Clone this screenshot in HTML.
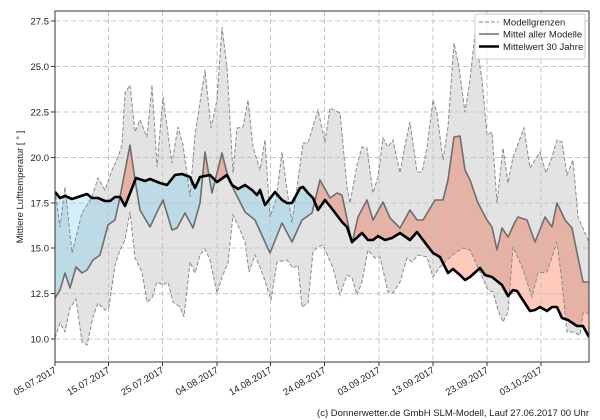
<!DOCTYPE html>
<html><head><meta charset="utf-8"><style>
html,body{margin:0;padding:0;background:#fff;}
svg{display:block;font-family:"Liberation Sans","DejaVu Sans",sans-serif;}
</style></head><body>
<svg id="s" width="600" height="420" viewBox="0 0 600 420" xmlns="http://www.w3.org/2000/svg"></svg>
<script>
const clim=[[55,192],[60,198],[65,196],[72,199],[78,197],[87,194],[92,198],[98,198],[105,201],[110,201],[115,197],[120,197],[125,206],[136,178],[145,181],[150,179],[155,181],[160,183],[167,185],[175,175],[182,174],[190,177],[195,188],[200,177],[210,175],[217,182],[227,175],[232,185],[238,189],[245,185],[252,190],[257,195],[260,190],[265,205],[275,192],[282,200],[287,203],[292,203],[300,188],[303,187],[308,193],[313,198],[318,210],[325,200],[333,210],[342,222],[347,227],[352,242],[362,233],[368,240],[373,240],[378,236],[385,240],[392,238],[400,233],[410,240],[417,232],[423,240],[433,253],[440,257],[448,273],[453,269],[460,275],[465,280],[470,277],[480,268],[485,275],[492,277],[502,285],[508,296],[513,290],[517,291],[530,311],[535,310],[540,307],[547,311],[552,307],[557,307],[562,318],[568,320],[577,326],[583,326],[589,337]];
const mean=[[55,298],[60,290],[65,273],[70,288],[76,267],[82,273],[87,270],[93,260],[100,255],[108,225],[115,220],[120,197],[130,145],[135,180],[140,210],[150,227],[157,212],[163,200],[172,230],[177,228],[185,213],[193,228],[200,203],[205,152],[212,193],[222,153],[228,177],[233,188],[245,212],[255,220],[270,253],[282,223],[292,242],[302,220],[312,213],[320,180],[330,198],[337,193],[342,195],[352,243],[358,217],[367,200],[373,220],[383,202],[390,218],[400,228],[410,210],[417,220],[423,220],[435,200],[443,200],[448,180],[454,137],[460,136],[465,170],[470,180],[478,203],[487,220],[492,227],[497,250],[502,228],[508,237],[515,222],[518,217],[527,220],[535,242],[545,217],[552,227],[557,203],[565,220],[572,228],[583,282],[589,282]];
const up=[[55,190],[60,227],[65,187],[72,253],[82,213],[92,197],[98,178],[105,190],[112,170],[118,157],[122,145],[125,93],[130,85],[135,132],[140,120],[147,137],[152,85],[157,167],[163,97],[172,163],[178,127],[183,145],[190,197],[195,135],[205,70],[211,128],[217,100],[222,27],[227,67],[233,173],[237,128],[243,127],[248,100],[253,147],[260,170],[265,140],[270,217],[276,200],[282,152],[287,190],[292,223],[298,180],[303,143],[308,143],[318,110],[325,142],[330,108],[340,113],[347,187],[350,203],[357,165],[362,147],[367,148],[373,193],[378,177],[383,138],[388,147],[393,140],[400,173],[405,145],[410,122],[417,172],[422,172],[427,148],[433,100],[437,113],[443,160],[448,127],[454,43],[459,67],[465,112],[470,80],[475,33],[482,80],[487,135],[492,132],[497,203],[503,148],[508,183],[513,157],[524,128],[530,168],[540,152],[546,173],[552,157],[557,140],[562,142],[567,175],[573,160],[578,217],[589,242]];
const lo=[[55,338],[60,323],[65,332],[70,308],[76,299],[82,342],[87,345],[93,317],[98,303],[105,310],[109,307],[115,265],[120,250],[125,240],[130,212],[135,258],[142,272],[147,302],[152,298],[157,282],[163,285],[168,282],[173,302],[180,307],[184,317],[190,262],[195,273],[200,255],[205,249],[210,260],[217,293],[222,277],[228,263],[233,215],[240,230],[245,242],[249,272],[255,255],[263,275],[271,300],[277,262],[287,260],[293,268],[298,265],[302,307],[308,303],[313,252],[318,247],[323,245],[333,268],[340,295],[347,275],[352,278],[357,295],[362,282],[368,250],[375,258],[380,257],[388,292],[393,293],[400,282],[407,258],[412,262],[418,255],[427,257],[433,277],[440,267],[447,260],[455,253],[463,248],[470,250],[480,272],[488,290],[493,292],[498,310],[503,322],[508,312],[513,247],[522,267],[532,297],[538,273],[547,272],[557,242],[562,283],[567,332],[573,332],[580,335],[583,313],[589,313]];
const P=a=>a.map(p=>p.join(',')).join(' ');
const R=a=>a.slice().reverse();
let h='';
h+='<defs><clipPath id="ab"><polygon points="'+P(clim)+' 589,0 55,0"/></clipPath><clipPath id="be"><polygon points="'+P(clim)+' 589,420 55,420"/></clipPath><clipPath id="ax"><rect x="55" y="11" width="534" height="351"/></clipPath></defs>';
const yt=[[10.0,339],[12.5,293.6],[15.0,248],[17.5,203],[20.0,157.5],[22.5,112],[25.0,66.5],[27.5,21]];
const xt=[[55,'05.07.2017'],[108.5,'15.07.2017'],[162.5,'25.07.2017'],[217,'04.08.2017'],[270.5,'14.08.2017'],[324.5,'24.08.2017'],[379,'03.09.2017'],[433,'13.09.2017'],[487,'23.09.2017'],[541,'03.10.2017']];
h+='<g clip-path="url(#ax)">';
h+='<polygon points="'+P(up)+' '+P(R(lo))+'" fill="#e3e3e3"/>';
h+='<polygon points="'+P(mean)+' '+P(R(clim))+'" fill="#e6b2a6" clip-path="url(#ab)"/>';
h+='<polygon points="'+P(mean)+' '+P(R(clim))+'" fill="#bcdbe7" clip-path="url(#be)"/>';
h+='<polygon points="'+P(lo)+' '+P(R(clim))+'" fill="#ffc9bb" clip-path="url(#ab)"/>';
h+='<polygon points="'+P(up)+' '+P(R(clim))+'" fill="#d4eefa" clip-path="url(#be)"/>';
for(const [v,y] of yt) h+='<line x1="55" x2="589" y1="'+y+'" y2="'+y+'" stroke="#c4c4c4" stroke-width="1" stroke-dasharray="5,3"/>';
for(const [x] of xt) h+='<line x1="'+x+'" x2="'+x+'" y1="11" y2="362" stroke="#c4c4c4" stroke-width="1" stroke-dasharray="5,3"/>';
h+='<polyline points="'+P(up)+'" fill="none" stroke="#8a8a8a" stroke-width="1" stroke-dasharray="4,2"/>';
h+='<polyline points="'+P(lo)+'" fill="none" stroke="#8a8a8a" stroke-width="1" stroke-dasharray="4,2"/>';
h+='<polyline points="'+P(mean)+'" fill="none" stroke="#6e6e6e" stroke-width="1.6" stroke-linejoin="round"/>';
h+='<polyline points="'+P(clim)+'" fill="none" stroke="#000" stroke-width="2.6" stroke-linejoin="round"/>';
h+='</g>';
h+='<rect x="55" y="11" width="534" height="351" fill="none" stroke="#333" stroke-width="1"/>';
for(const [v,y] of yt){h+='<line x1="51" x2="55" y1="'+y+'" y2="'+y+'" stroke="#333"/>';h+='<text x="49" y="'+(y+3.5)+'" font-size="9.5" text-anchor="end" fill="#222">'+v.toFixed(1)+'</text>';}
for(const [x,t] of xt){h+='<line x1="'+x+'" x2="'+x+'" y1="362" y2="366" stroke="#333"/>';h+='<text transform="translate('+(x+2)+',372) rotate(-30)" font-size="9.5" text-anchor="end" fill="#222">'+t+'</text>';}
h+='<text transform="translate(23,187) rotate(-90)" font-size="9.5" text-anchor="middle" fill="#222">Mittlere Lufttemperatur [ ° ]</text>';
h+='<rect x="475" y="14" width="110" height="45" rx="2" fill="#fff" fill-opacity="0.85" stroke="#ccc"/>';
h+='<line x1="479" x2="499" y1="22" y2="22" stroke="#8a8a8a" stroke-dasharray="4,2"/><text x="503" y="25.5" font-size="9.5" fill="#222">Modellgrenzen</text>';
h+='<line x1="479" x2="499" y1="34" y2="34" stroke="#6e6e6e" stroke-width="1.6"/><text x="503" y="37.5" font-size="9.5" fill="#222">Mittel aller Modelle</text>';
h+='<line x1="479" x2="499" y1="46.5" y2="46.5" stroke="#000" stroke-width="2.6"/><text x="503" y="50" font-size="9.5" fill="#222">Mittelwert 30 Jahre</text>';
h+='<text x="589" y="416" font-size="9.5" text-anchor="end" fill="#222">(c) Donnerwetter.de GmbH SLM-Modell, Lauf 27.06.2017 00 Uhr</text>';
document.getElementById('s').innerHTML=h;
</script>
</body></html>
